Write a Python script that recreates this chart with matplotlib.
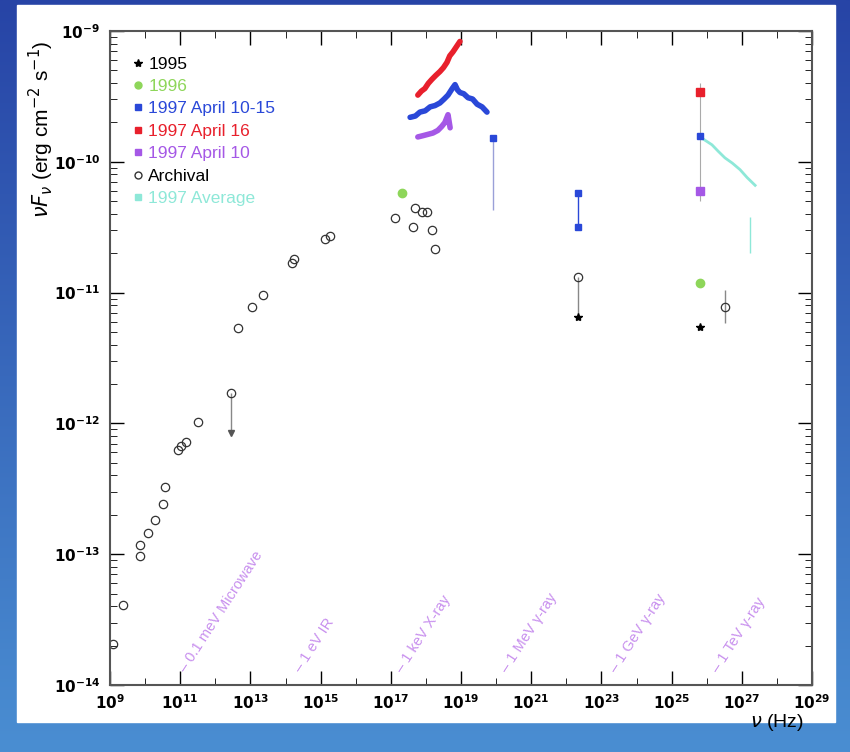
import numpy as np
import matplotlib
matplotlib.use("Agg")
import matplotlib.pyplot as plt
from matplotlib.ticker import FixedLocator, FuncFormatter, NullFormatter
from matplotlib.lines import Line2D

plt.rcParams['font.family'] = ['Liberation Sans', 'DejaVu Sans']

# ---------------- data (log10 nu [Hz], log10 nuFnu [erg cm^-2 s^-1]) ----------------
arch_nu = [9.09, 9.37, 9.85, 9.85, 10.08, 10.28, 10.51, 10.57, 10.94, 11.02, 11.17, 11.51,
           12.65, 13.05, 13.36, 14.19, 14.25, 15.13, 15.27,
           17.12, 17.63, 18.17, 18.26, 17.69, 17.89, 18.03, 26.53]
arch_f = [-13.69, -13.39, -13.01, -12.93, -12.84, -12.74, -12.62, -12.49, -12.20, -12.17, -12.14, -11.99,
          -11.27, -11.11, -11.02, -10.77, -10.74, -10.59, -10.57,
          -10.43, -10.50, -10.52, -10.67, -10.35, -10.38, -10.38, -11.11]
arch_ul_nu = [12.45, 22.33]
arch_ul_f = [-11.77, -10.88]
arch_ul_lo = [-12.07, -11.19]

y1995_nu = [22.33, 25.81]
y1995_f = [-11.19, -11.26]

y1996_nu = [17.32, 25.81]
y1996_f = [-10.24, -10.93]

apr1015_nu = [17.55, 17.70, 17.83, 17.98, 18.12, 18.26, 18.40, 18.52, 18.63, 18.75, 18.83, 18.90, 18.97,
              19.08, 19.20, 19.33, 19.46, 19.60, 19.74]
apr1015_f = [-9.66, -9.65, -9.62, -9.61, -9.58, -9.57, -9.55, -9.52, -9.49, -9.44, -9.41, -9.45, -9.47,
             -9.48, -9.51, -9.52, -9.56, -9.58, -9.62]
apr1015_pts_nu = [19.91, 22.33, 22.33, 25.81]
apr1015_pts_f = [-9.82, -10.24, -10.50, -9.80]

apr16_nu = [17.77, 17.87, 17.97, 18.07, 18.17, 18.28, 18.40, 18.50, 18.60, 18.68, 18.77, 18.87, 18.97]
apr16_f = [-9.49, -9.46, -9.44, -9.40, -9.37, -9.34, -9.31, -9.28, -9.24, -9.19, -9.16, -9.12, -9.08]
apr16_pts_nu = [25.81]
apr16_pts_f = [-9.47]

apr10_nu = [17.77, 17.92, 18.06, 18.20, 18.34, 18.45, 18.54, 18.60, 18.63, 18.69]
apr10_f = [-9.81, -9.80, -9.79, -9.78, -9.76, -9.73, -9.70, -9.66, -9.64, -9.74]
apr10_pts_nu = [25.81]
apr10_pts_f = [-10.22]

avg_nu = [25.81, 25.98, 26.15, 26.33, 26.52, 26.73, 26.95, 27.15, 27.38]
avg_f = [-9.81, -9.84, -9.87, -9.92, -9.97, -10.01, -10.06, -10.12, -10.18]

band_nu = [11.25, 14.5, 17.4, 20.4, 23.5, 26.4]
band_txt = ["0.1 meV Microwave", "1 eV IR", "1 keV X-ray", "1 MeV γ-ray", "1 GeV γ-ray", "1 TeV γ-ray"]

c_green = '#8ed65a'
c_blue = '#2a48d8'
c_red = '#e8202c'
c_purple = '#a558e6'
c_cyan = '#8ee8d8'
c_band = '#c890ee'


def p(v):
    return np.power(10.0, v)


fig = plt.figure(figsize=(8.5, 7.52), dpi=100)

# slide background
bg = fig.add_axes([0, 0, 1, 1])
grad = np.linspace(0, 1, 256).reshape(-1, 1)
bg.imshow(grad, aspect='auto', cmap=matplotlib.colors.LinearSegmentedColormap.from_list(
    'bg', ['#2744a6', '#4a8ed2']), extent=[0, 1, 0, 1], origin='upper')
bg.add_patch(plt.Rectangle((17 / 850, 1 - 722 / 752), (835 - 17) / 850, (722 - 5) / 752,
                           color='white', zorder=2))
bg.set_axis_off()

ax = fig.add_axes([110 / 850, 1 - 685 / 752, (812 - 110) / 850, (685 - 31) / 752])
ax.set_xscale('log')
ax.set_yscale('log')
ax.set_xlim(1e9, 1e29)
ax.set_ylim(1e-14, 1e-9)

# error bars / limits
ax.vlines(p(np.array(arch_ul_nu)), p(np.array(arch_ul_lo)), p(np.array(arch_ul_f)),
          color='#888888', lw=1)
ax.plot(p(np.array(arch_ul_nu[:1])), p(np.array(arch_ul_lo[:1])), 'v', color='#555555', ms=4)
ax.vlines(p(19.91), p(-10.37), p(-9.82), color='#9aa0d8', lw=1)
ax.vlines(p(25.81), p(-10.30), p(-9.40), color='#aaaaaa', lw=0.8)
ax.vlines(p(26.53), p(-11.23), p(-10.98), color='#888888', lw=1)
ax.vlines(p(22.33), p(-10.50), p(-10.24), color=c_blue, lw=1)
ax.vlines(p(27.23), p(-10.70), p(-10.42), color=c_cyan, lw=1)

# archival
ax.plot(p(np.array(arch_nu)), p(np.array(arch_f)), 'o', mfc='none', mec='#333333', ms=6, mew=0.9)
ax.plot(p(np.array(arch_ul_nu)), p(np.array(arch_ul_f)), 'o', mfc='none', mec='#333333', ms=6, mew=0.9)

# spectra
ax.plot(p(np.array(avg_nu)), p(np.array(avg_f)), '-', color=c_cyan, lw=2)
ax.plot(p(np.array(apr16_nu)), p(np.array(apr16_f)), '-', color=c_red, lw=4, solid_capstyle='round')
ax.plot(p(np.array(apr1015_nu)), p(np.array(apr1015_f)), '-', color=c_blue, lw=4, solid_capstyle='round')
ax.plot(p(np.array(apr10_nu)), p(np.array(apr10_f)), '-', color=c_purple, lw=4, solid_capstyle='round')

ax.plot(p(np.array(apr16_pts_nu)), p(np.array(apr16_pts_f)), 's', color=c_red, ms=6)
ax.plot(p(np.array(apr1015_pts_nu)), p(np.array(apr1015_pts_f)), 's', color=c_blue, ms=5)
ax.plot(p(np.array(apr10_pts_nu)), p(np.array(apr10_pts_f)), 's', color=c_purple, ms=6)
ax.plot(p(np.array(y1996_nu)), p(np.array(y1996_f)), 'o', color=c_green, ms=6)
ax.plot(p(np.array(y1995_nu)), p(np.array(y1995_f)), '*', color='black', ms=6)

# band labels
for nu, t in zip(band_nu, band_txt):
    ax.text(p(nu), 1.2e-14, "– " + t, rotation=57, rotation_mode='anchor',
            ha='left', va='bottom', color=c_band, fontsize=10.5)

# axes styling
major_x = [p(v) for v in range(9, 30, 2)]
ax.xaxis.set_major_locator(FixedLocator(major_x))
ax.xaxis.set_minor_locator(FixedLocator([p(v) for v in range(9, 30)]))
ax.xaxis.set_minor_formatter(NullFormatter())
ax.xaxis.set_major_formatter(FuncFormatter(lambda v, pos: r'$\mathbf{10^{%d}}$' % round(np.log10(v))))
ax.yaxis.set_major_locator(FixedLocator([p(v) for v in range(-14, -8)]))
ax.yaxis.set_major_formatter(FuncFormatter(lambda v, pos: r'$\mathbf{10^{%d}}$' % round(np.log10(v))))
ax.tick_params(which='both', direction='in', top=True, right=True, labelsize=11)
ax.tick_params(axis='x', which='major', pad=6)
ax.tick_params(axis='y', which='major', pad=7)
ax.tick_params(which='major', length=10, width=1)
ax.tick_params(which='minor', length=5, width=0.6)
for s in ax.spines.values():
    s.set_color('#555555')
    s.set_linewidth(1.5)

ax.set_ylabel(r'$\nu F_\nu$ (erg cm$^{-2}$ s$^{-1}$)', fontsize=15)
ax.yaxis.set_label_coords(-0.077, 0.85)
ax.set_xlabel(r'$\nu$ (Hz)', fontsize=14)
ax.xaxis.set_label_coords(0.95, -0.042)

handles = [
    Line2D([], [], ls='none', marker='*', color='black', ms=6),
    Line2D([], [], ls='none', marker='o', color=c_green, ms=5),
    Line2D([], [], ls='none', marker='s', color=c_blue, ms=5),
    Line2D([], [], ls='none', marker='s', color=c_red, ms=5),
    Line2D([], [], ls='none', marker='s', color=c_purple, ms=5),
    Line2D([], [], ls='none', marker='o', mfc='none', mec='#333333', ms=5),
    Line2D([], [], ls='none', marker='s', color=c_cyan, ms=5),
]
labels = ["1995", "1996", "1997 April 10-15", "1997 April 16", "1997 April 10", "Archival", "1997 Average"]
leg = ax.legend(handles, labels, loc='upper left', bbox_to_anchor=(0.01, 0.985), frameon=False,
                fontsize=12.5, handlelength=0.6, handletextpad=0.3, labelspacing=0.42,
                labelcolor=['black', c_green, c_blue, c_red, c_purple, 'black', c_cyan])

fig.savefig("out.png", dpi=100)
